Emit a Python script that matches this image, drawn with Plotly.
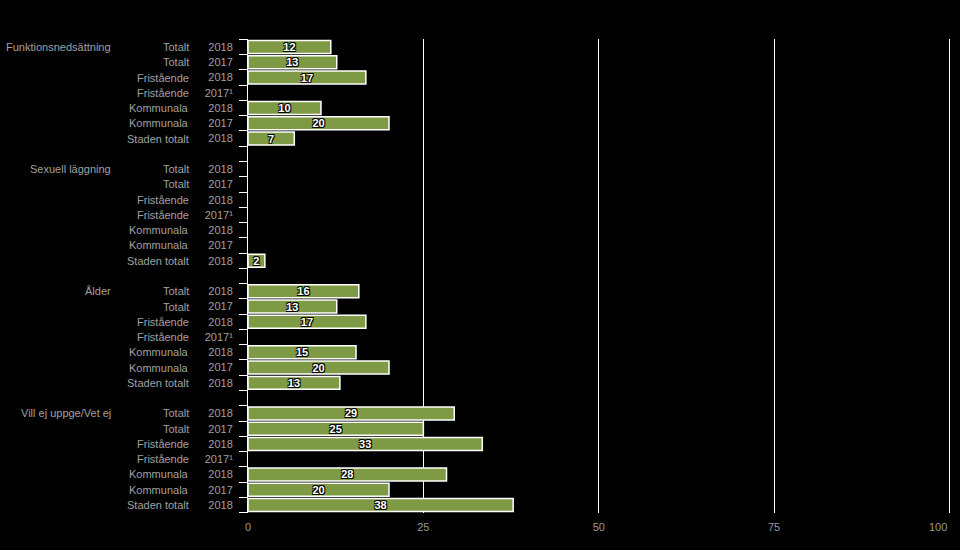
import plotly.graph_objects as go

# ---- data ----
groups = ["Funktionsnedsättning", "Sexuell läggning", "Ålder", "Vill ej uppge/Vet ej"]
subgroups = ["Totalt", "Totalt", "Fristående", "Fristående", "Kommunala", "Kommunala", "Staden totalt"]
years = ["2018", "2017", "2018", "2017¹", "2018", "2017", "2018"]

funktion_vals = [11.8, 12.65, 16.8, None, 10.4, 20.1, 6.6]
sexuell_vals = [None, None, None, None, None, None, 2.4]
alder_vals = [15.8, 12.65, 16.8, None, 15.4, 20.1, 13.1]
villej_vals = [29.4, 25.0, 33.4, None, 28.3, 20.1, 37.8]

x_ticks = [0, 25, 50, 75, 100]
x_ticklabels = ["0", "25", "50", "75", "100"]

# ---- build rows ----
series = [funktion_vals, sexuell_vals, alder_vals, villej_vals]
cats, xs, ticktext = [], [], []
sub_ann, grp_ann = [], []
for gi, (g, vals) in enumerate(zip(groups, series)):
    for ri in range(len(subgroups)):
        key = f"{g}|{subgroups[ri]}|{years[ri]}|{ri}"
        cats.append(key)
        xs.append(vals[ri])
        ticktext.append(years[ri])
        sub_ann.append((key, subgroups[ri]))
        if ri == 0:
            grp_ann.append((key, g))
    if gi < len(groups) - 1:
        key = f"gap{gi}"
        cats.append(key)
        xs.append(None)
        ticktext.append(" ")

GREEN = "#7e9a45"
LABEL_GRAY = "#a0a0a0"
XTICK_GRAY = "#999999"
FONT = "Liberation Sans, Arial, sans-serif"

fig = go.Figure()
fig.add_trace(go.Bar(
    y=cats, x=xs, orientation="h",
    marker=dict(color=GREEN, line=dict(color="white", width=1.5)),
    texttemplate="%{x:.0f}",
    textposition="inside",
    insidetextanchor="middle",
    constraintext="none",
    textangle=0,
    textfont=dict(family=FONT, size=11, color="white", weight="bold",
                  shadow="1px 1px 0 #000, -1px -1px 0 #000, 1px -1px 0 #000, -1px 1px 0 #000"),
    hoverinfo="skip",
))

annotations = []
for key, txt in sub_ann:
    annotations.append(dict(xref="paper", yref="y", x=0, y=key, text=txt,
                            xanchor="right", xshift=-57, showarrow=False,
                            font=dict(family=FONT, size=11, color=LABEL_GRAY)))
for key, txt in grp_ann:
    annotations.append(dict(xref="paper", yref="y", x=0, y=key, text=txt,
                            xanchor="right", xshift=-135, showarrow=False,
                            font=dict(family=FONT, size=11, color=LABEL_GRAY)))
# last x tick label, kept inside the page (right-aligned at its tick)
annotations.append(dict(xref="x", yref="paper", x=x_ticks[-1], y=0, text=x_ticklabels[-1],
                        xanchor="right", yanchor="middle", yshift=-14, showarrow=False,
                        font=dict(family=FONT, size=11, color=XTICK_GRAY)))

fig.update_layout(
    width=960, height=550,
    paper_bgcolor="black", plot_bgcolor="black",
    margin=dict(l=248, r=7, t=39, b=37),
    showlegend=False,
    bargap=0.15,
    annotations=annotations,
    font=dict(family=FONT, size=11, color=LABEL_GRAY),
    xaxis=dict(range=[0, 100.5], tickmode="array", tickvals=x_ticks,
               ticktext=x_ticklabels[:-1] + [""],
               showgrid=True, gridcolor="white", automargin=False,
               gridwidth=1, zeroline=False, showline=False, ticks="",
               ticklabelstandoff=6,
               tickfont=dict(family=FONT, size=11, color=XTICK_GRAY)),
    yaxis=dict(type="category", categoryorder="array", categoryarray=cats,
               tickmode="array", tickvals=cats, ticktext=ticktext,
               autorange="reversed", tickson="boundaries", automargin=False,
               ticks="outside", ticklen=8, tickcolor="white", tickwidth=1,
               ticklabelstandoff=12,
               showline=True, linecolor="white", linewidth=1, showgrid=False,
               zeroline=False,
               tickfont=dict(family=FONT, size=11, color=LABEL_GRAY)),
)

fig.write_html("out.html", config={"displayModeBar": False},
               post_script="document.body.style.margin='0';document.body.style.background='black';")
